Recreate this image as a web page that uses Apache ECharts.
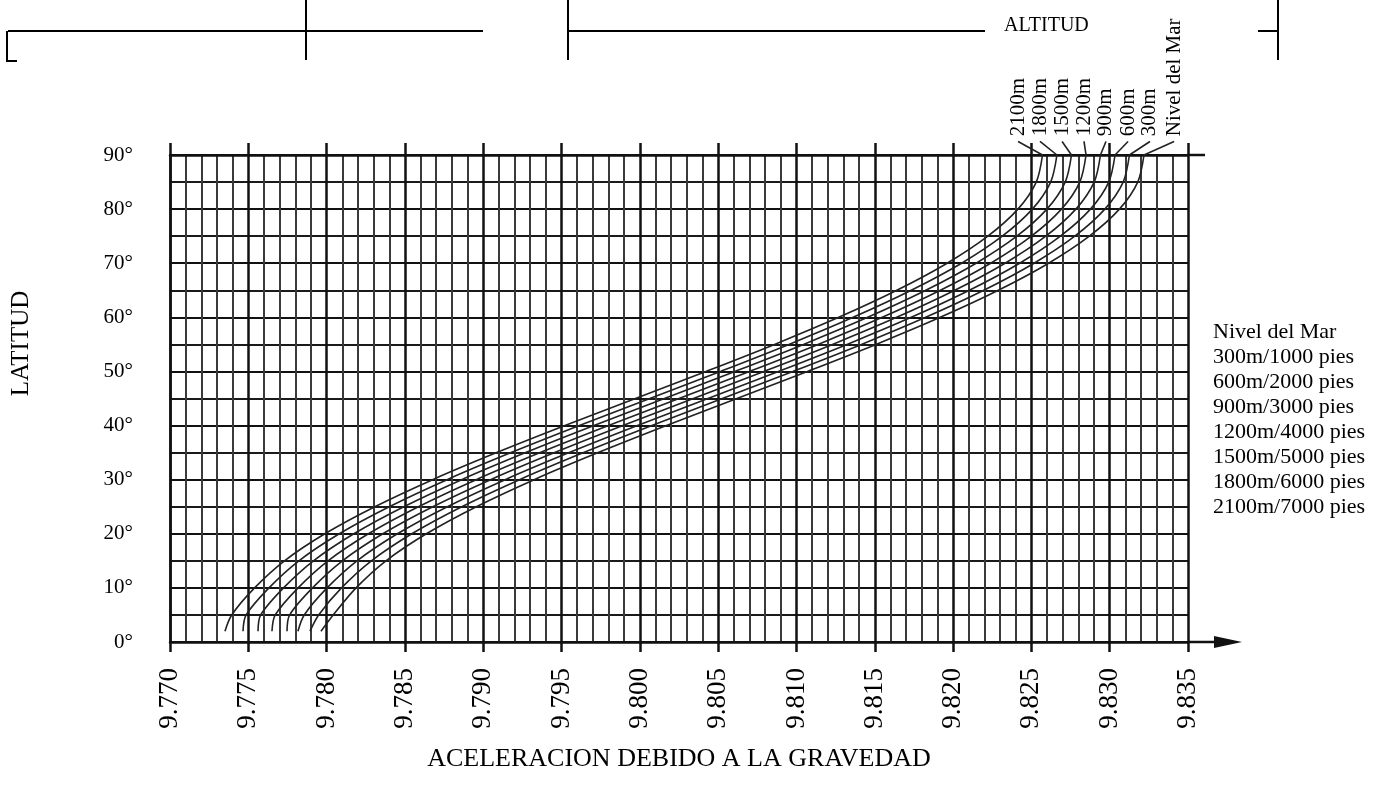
<!DOCTYPE html>
<html><head><meta charset="utf-8">
<script src="https://cdn.jsdelivr.net/npm/echarts@6/dist/echarts.min.js"></script>
<style>html,body{margin:0;padding:0;background:#fff}#c{width:1389px;height:787px}</style>
</head><body><div id="c"></div>
<script>
// ---- data ----
const latitudes = [2, 5, 10, 15, 20, 25, 30, 35, 40, 45, 50, 55, 60, 65, 70, 75, 80, 85, 90];
const seriesNames = ['Nivel del Mar', '300m/1000 pies', '600m/2000 pies', '900m/3000 pies',
  '1200m/4000 pies', '1500m/5000 pies', '1800m/6000 pies', '2100m/7000 pies'];
const topLabels = ['Nivel del Mar', '300m', '600m', '900m', '1200m', '1500m', '1800m', '2100m'];
const gNivelMar = [9.77964, 9.78042, 9.78188, 9.78379, 9.78637, 9.78956, 9.79325, 9.79734, 9.80170, 9.80620, 9.81070, 9.81508, 9.81918, 9.82289, 9.82610, 9.82870, 9.83062, 9.83179, 9.83219];
const g300 = [9.77894, 9.77949, 9.78095, 9.78286, 9.78544, 9.78863, 9.79232, 9.79641, 9.80077, 9.80527, 9.80977, 9.81415, 9.81825, 9.82196, 9.82517, 9.82777, 9.82969, 9.83086, 9.83126];
const g600 = [9.77817, 9.77857, 9.78003, 9.78194, 9.78452, 9.78771, 9.79140, 9.79549, 9.79985, 9.80435, 9.80885, 9.81323, 9.81733, 9.82104, 9.82425, 9.82685, 9.82877, 9.82994, 9.83034];
const g900 = [9.77747, 9.77764, 9.77910, 9.78101, 9.78359, 9.78678, 9.79047, 9.79456, 9.79892, 9.80342, 9.80792, 9.81230, 9.81640, 9.82011, 9.82332, 9.82592, 9.82784, 9.82901, 9.82941];
const g1200 = [9.77651, 9.77672, 9.77818, 9.78009, 9.78267, 9.78586, 9.78955, 9.79364, 9.79800, 9.80250, 9.80700, 9.81138, 9.81548, 9.81919, 9.82240, 9.82500, 9.82692, 9.82809, 9.82849];
const g1500 = [9.77562, 9.77579, 9.77725, 9.77916, 9.78174, 9.78493, 9.78862, 9.79271, 9.79707, 9.80157, 9.80607, 9.81045, 9.81455, 9.81826, 9.82147, 9.82407, 9.82599, 9.82716, 9.82756];
const g1800 = [9.77466, 9.77486, 9.77632, 9.77823, 9.78081, 9.78400, 9.78769, 9.79178, 9.79614, 9.80064, 9.80514, 9.80952, 9.81362, 9.81733, 9.82054, 9.82314, 9.82506, 9.82623, 9.82663];
const g2100 = [9.77351, 9.77394, 9.77540, 9.77731, 9.77989, 9.78308, 9.78677, 9.79086, 9.79522, 9.79972, 9.80422, 9.80860, 9.81270, 9.81641, 9.81962, 9.82222, 9.82414, 9.82531, 9.82571];
// leader lines from the 90° end of each curve up to its altitude label
const leaderTopG = [9.83411, 9.83257, 9.83117, 9.82976, 9.82836, 9.82696, 9.82555, 9.82415];
const leaderTopLat = 92.5;
// axes
const xMin = 9.770, xMax = 9.835, xStep = 0.005;
const yMin = 0, yMax = 90, yStep = 10;

const curves = [gNivelMar, g300, g600, g900, g1200, g1500, g1800, g2100];
const FONT = '"Liberation Serif", "Times New Roman", serif';
const INK = '#111';

const chart = echarts.init(document.getElementById('c'), null, {renderer: 'canvas'});

const series = [];
curves.forEach((g, i) => {
  series.push({
    name: seriesNames[i], type: 'line', smooth: 0.3, showSymbol: false, symbol: 'none',
    lineStyle: {color: '#222', width: 1.6}, itemStyle: {color: '#222'},
    data: latitudes.map((lat, j) => [g[j], lat]), z: 5, silent: true
  });
  series.push({
    name: 'leader' + i, type: 'line', clip: false, symbol: 'circle', symbolSize: 0.5, showSymbol: true,
    lineStyle: {color: '#222', width: 1.6}, itemStyle: {color: '#222'}, silent: true, z: 5,
    data: [
      [g[g.length - 1], latitudes[latitudes.length - 1]],
      {value: [leaderTopG[i], leaderTopLat], label: {
        show: true, position: 'top', distance: 5, rotate: 90, align: 'left', verticalAlign: 'middle',
        formatter: topLabels[i], fontFamily: FONT, fontSize: 21, color: '#000'
      }}
    ]
  });
});

const option = {
  backgroundColor: '#fff',
  animation: false,
  title: {text: 'ALTITUD', left: 999, top: 11, textStyle: {fontFamily: FONT, fontSize: 20, fontWeight: 'normal', color: '#000'}},
  legend: {
    data: seriesNames, orient: 'vertical', left: 1203, top: 316, itemGap: 3,
    icon: 'none', itemWidth: 0, itemHeight: 10, selectedMode: false,
    textStyle: {fontFamily: FONT, fontSize: 22, color: '#000'}
  },
  grid: {left: 170, right: 201, top: 155, bottom: 145, containLabel: false},
  xAxis: [{
    type: 'value', min: xMin, max: xMax, interval: xStep, position: 'bottom',
    name: 'ACELERACION DEBIDO A LA GRAVEDAD', nameLocation: 'middle', nameGap: 104,
    nameTextStyle: {fontFamily: FONT, fontSize: 26, color: '#000'},
    axisLine: {show: true, lineStyle: {color: INK, width: 2.5}},
    axisTick: {show: true, length: 10, lineStyle: {color: INK, width: 2.5}},
    minorTick: {show: false, splitNumber: 5},
    axisLabel: {rotate: 90, margin: 26, fontFamily: FONT, fontSize: 27, color: '#000',
      formatter: v => v.toFixed(3)},
    splitLine: {show: true, lineStyle: {color: INK, width: 2.5}},
    minorSplitLine: {show: true, lineStyle: {color: '#3a3a3a', width: 2}}
  }, {
    type: 'value', min: xMin, max: xMax, interval: xStep, position: 'top',
    axisLine: {show: true, lineStyle: {color: INK, width: 2.5}},
    axisTick: {show: true, length: 12, lineStyle: {color: INK, width: 2.5}},
    axisLabel: {show: false}, splitLine: {show: false}
  }],
  yAxis: {
    type: 'value', min: yMin, max: yMax, interval: yStep,
    name: 'LATITUD', nameLocation: 'middle', nameGap: 136, nameRotate: 90,
    nameTextStyle: {fontFamily: FONT, fontSize: 25, color: '#000', padding: [0, 0, 0, 110]},
    axisLine: {show: true, lineStyle: {color: INK, width: 2.5}},
    axisTick: {show: false},
    minorTick: {show: false, splitNumber: 2},
    axisLabel: {margin: 37, fontFamily: FONT, fontSize: 21, color: '#000', formatter: '{value}°'},
    splitLine: {show: true, lineStyle: {color: INK, width: 2}},
    minorSplitLine: {show: true, lineStyle: {color: '#1a1a1a', width: 1.8}}
  },
  graphic: [
    // table fragments at the top of the scanned page
    {type: 'line', shape: {x1: 8, y1: 31, x2: 483, y2: 31}, style: {stroke: '#000', lineWidth: 2}},
    {type: 'line', shape: {x1: 7, y1: 31, x2: 7, y2: 61}, style: {stroke: '#000', lineWidth: 2}},
    {type: 'line', shape: {x1: 6, y1: 61, x2: 17, y2: 61}, style: {stroke: '#000', lineWidth: 2}},
    {type: 'line', shape: {x1: 306, y1: 0, x2: 306, y2: 60}, style: {stroke: '#000', lineWidth: 2}},
    {type: 'line', shape: {x1: 568, y1: 0, x2: 568, y2: 60}, style: {stroke: '#000', lineWidth: 2}},
    {type: 'line', shape: {x1: 568, y1: 31, x2: 985, y2: 31}, style: {stroke: '#000', lineWidth: 2}},
    {type: 'line', shape: {x1: 1258, y1: 31, x2: 1279, y2: 31}, style: {stroke: '#000', lineWidth: 2}},
    {type: 'line', shape: {x1: 1278, y1: 0, x2: 1278, y2: 60}, style: {stroke: '#000', lineWidth: 2}},
    // extension of the top border and axis arrow
    {type: 'line', shape: {x1: 1188, y1: 155, x2: 1205, y2: 155}, style: {stroke: INK, lineWidth: 2.5}},
    {type: 'line', shape: {x1: 1188, y1: 642, x2: 1222, y2: 642}, style: {stroke: INK, lineWidth: 2.5}},
    {type: 'polygon', shape: {points: [[1214, 636], [1242, 642], [1214, 648]]}, style: {fill: INK}}
  ],
  series: series
};
chart.setOption(option);
</script>
</body></html>
